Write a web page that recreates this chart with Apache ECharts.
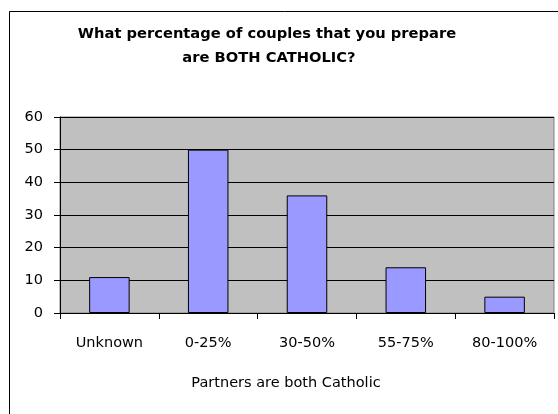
<!DOCTYPE html>
<html><head><meta charset="utf-8">
<script src="https://cdn.jsdelivr.net/npm/echarts@6/dist/echarts.min.js"></script>
<style>html,body{margin:0;padding:0;background:#fff}#c{width:558px;height:414px}</style>
</head><body><div id="c"></div>
<script>
const categories = ["Unknown", "0-25%", "30-50%", "55-75%", "80-100%"];
const values = [11, 50, 36, 14, 5];
const yTicks = [0, 10, 20, 30, 40, 50, 60];
const titleLines = ["What percentage of couples that you prepare", "are BOTH CATHOLIC?"];
const xAxisName = "Partners are both Catholic";

const chart = echarts.init(document.getElementById('c'), null, {renderer: 'canvas'});
const font = '"DejaVu Sans", Verdana, sans-serif';
chart.setOption({
  animation: false,
  backgroundColor: '#fff',
  graphic: [
    {type: 'rect', shape: {x: 9.5, y: 11.5, width: 600, height: 450}, style: {fill: 'none', stroke: '#000', lineWidth: 1}, z: 100},
    {type: 'text', style: {text: titleLines[0], x: 267, y: 34, textAlign: 'center', textVerticalAlign: 'middle', font: 'bold 14.7px ' + font, fill: '#000'}},
    {type: 'text', style: {text: titleLines[1], x: 269, y: 58, textAlign: 'center', textVerticalAlign: 'middle', font: 'bold 14.7px ' + font, fill: '#000'}},
    {type: 'text', style: {text: xAxisName, x: 286, y: 383, textAlign: 'center', textVerticalAlign: 'middle', font: '14.5px ' + font, fill: '#000'}}
  ],
  grid: {left: 60, right: 4, top: 117, bottom: 101, show: true, backgroundColor: '#C0C0C0', borderColor: '#808080', borderWidth: 1},
  xAxis: {
    type: 'category', data: categories,
    axisLine: {lineStyle: {color: '#000'}},
    axisTick: {show: true, length: 6, lineStyle: {color: '#000'}},
    axisLabel: {fontFamily: font, fontSize: 14.5, color: '#000', margin: 23}
  },
  yAxis: {
    type: 'value', min: yTicks[0], max: yTicks[yTicks.length-1], interval: 10,
    axisLine: {show: true, lineStyle: {color: '#000'}},
    axisTick: {show: true, length: 6, lineStyle: {color: '#000'}},
    axisLabel: {fontFamily: font, fontSize: 14.5, color: '#000', margin: 17},
    splitLine: {lineStyle: {color: '#000', width: 1}}
  },
  series: [{
    type: 'bar', data: values, barWidth: '41%',
    itemStyle: {color: '#9999FF', borderColor: '#000', borderWidth: 1}
  }]
});
</script></body></html>
